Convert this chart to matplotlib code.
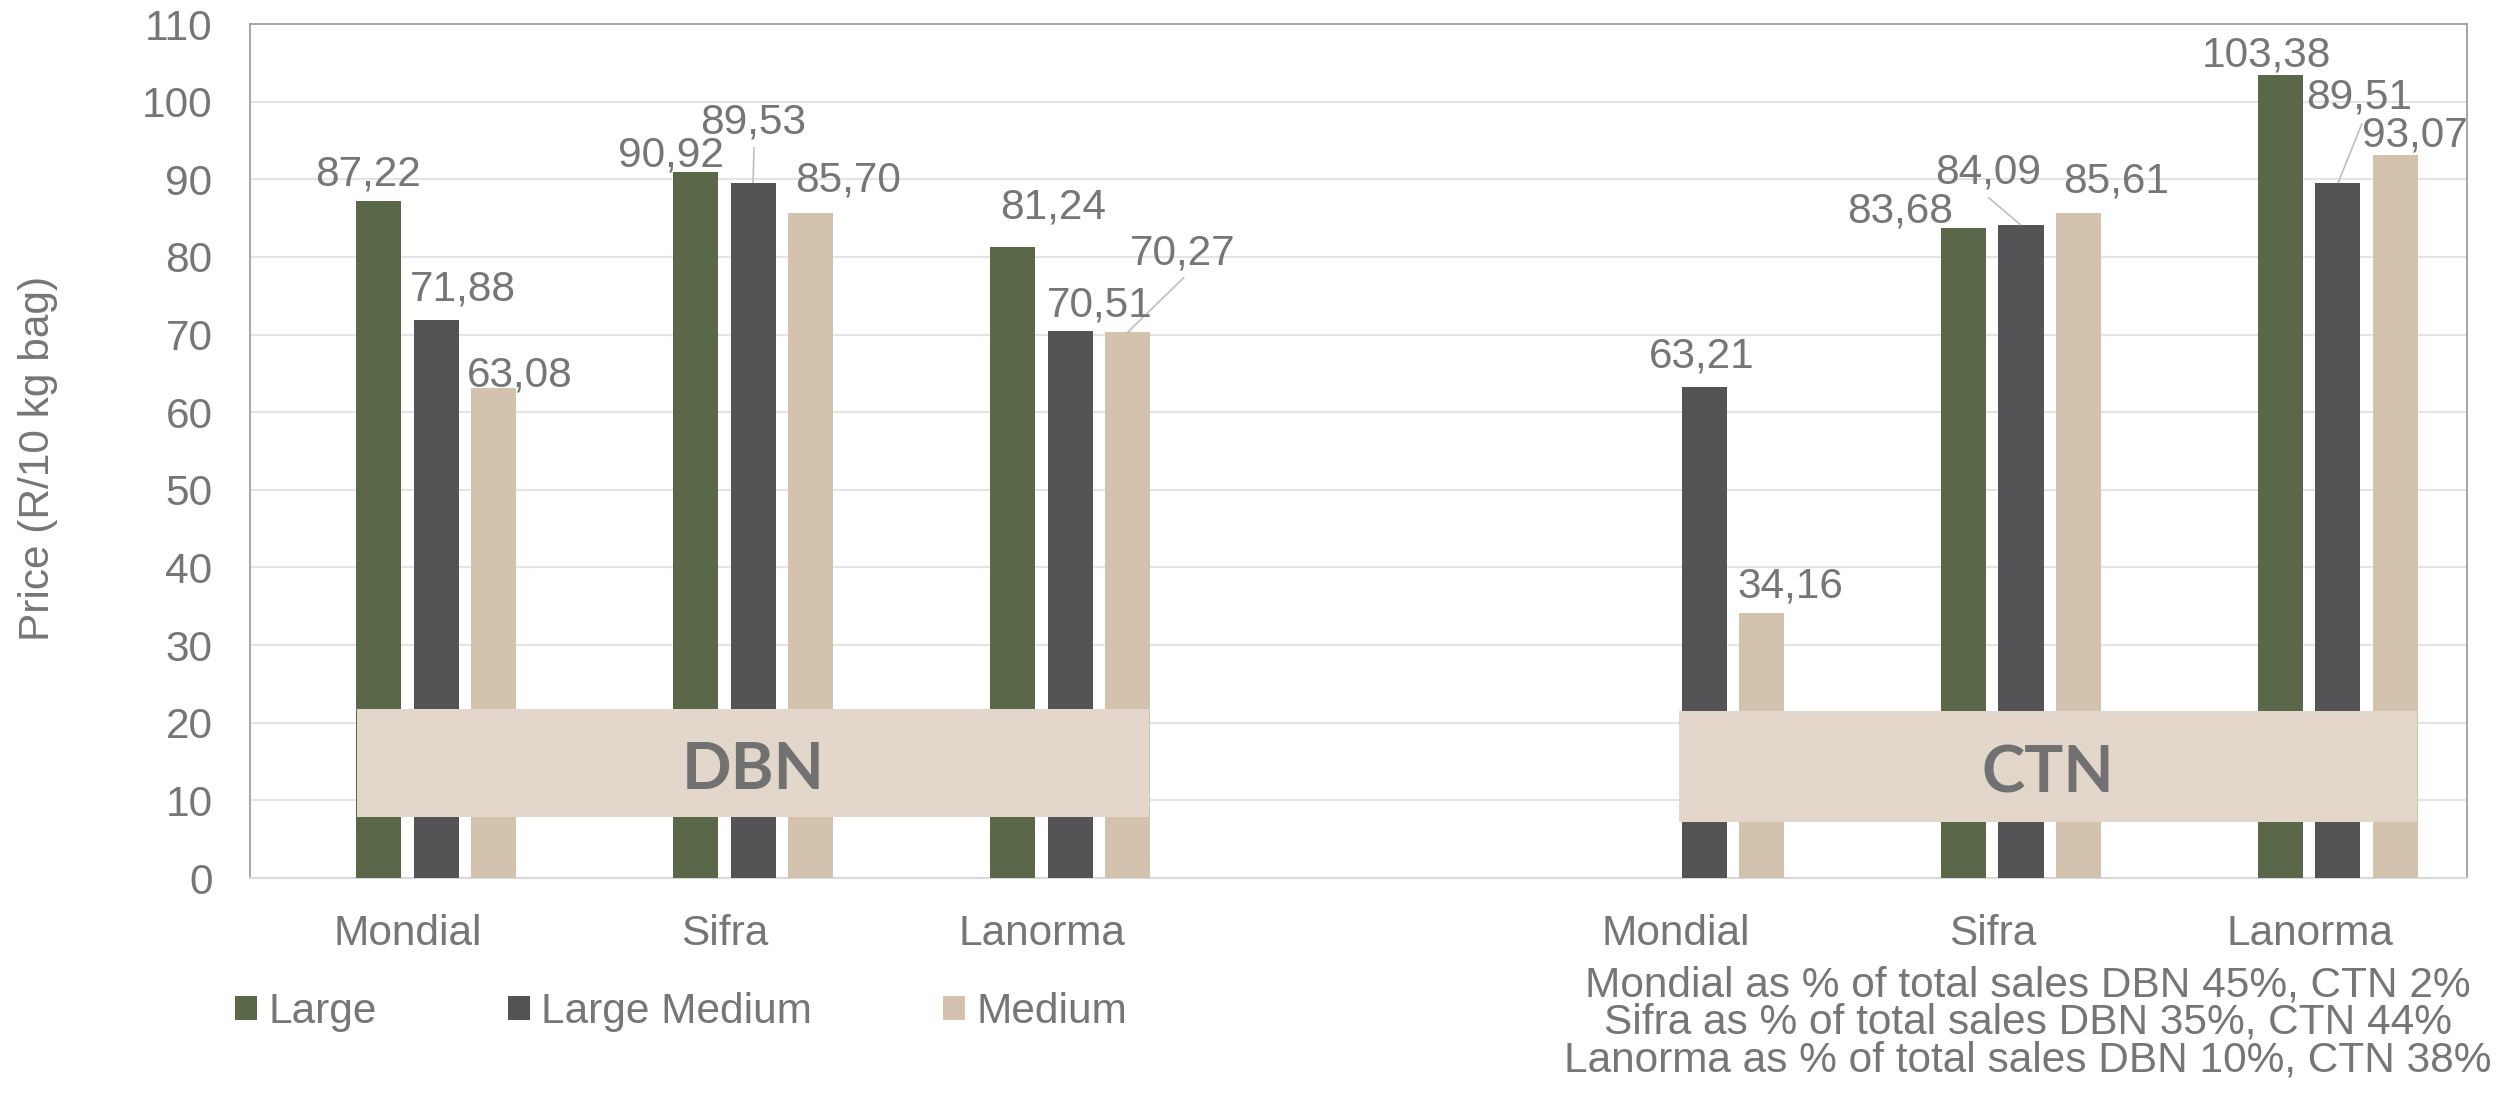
import numpy as np
import matplotlib
matplotlib.use("Agg")
import matplotlib.pyplot as plt
from matplotlib.patches import Rectangle, Patch
from matplotlib.transforms import blended_transform_factory

# ---------------- data ----------------
categories = ["Mondial", "Sifra", "Lanorma", "Mondial", "Sifra", "Lanorma"]
markets = ["DBN", "CTN"]
series_names = ["Large", "Large Medium", "Medium"]
large = [87.22, 90.92, 81.24, np.nan, 83.68, 103.38]
large_medium = [71.88, 89.53, 70.51, 63.21, 84.09, 89.51]
medium = [63.08, 85.70, 70.27, 34.16, 85.61, 93.07]
cultivars = ["Mondial", "Sifra", "Lanorma"]
dbn_share = [45, 35, 10]
ctn_share = [2, 44, 38]
yticks = list(range(0, 111, 10))

# ---------------- style ----------------
GREEN = "#5A6849"
DARK = "#545456"
BEIGE = "#D3C2AD"
BOX = "#E2D7CA"
TXT = "#767676"
FONT = "Liberation Sans"
FS = 30.5

plt.rcParams["font.family"] = [FONT, "DejaVu Sans"]

W, H = 2498, 1105
fig = plt.figure(figsize=(W / 100, H / 100), dpi=100)
L, R, T, B = 250, 2467, 24, 878
ax = fig.add_axes([L / W, 1 - B / H, (R - L) / W, (B - T) / H])

pos = np.array([0, 1, 2, 4, 5, 6], dtype=float)
bw = 0.142
step = 0.1814
cols = [GREEN, DARK, BEIGE]
data = [large, large_medium, medium]
for k, (vals, c, name) in enumerate(zip(data, cols, series_names)):
    ax.bar(pos + (k - 1) * step, vals, width=bw, color=c, zorder=3, label=name)

ax.set_xlim(-0.587, 6.407)
ax.set_ylim(0, 110)
ax.set_yticks(yticks)
ax.set_xticks([])
ax.tick_params(axis="y", length=0, pad=27.0, labelsize=FS, labelcolor=TXT)
ax.grid(axis="y", color="#E4E4E4", lw=1.5, zorder=0)
for s in ["left", "top", "right"]:
    ax.spines[s].set_color("#A6A6A6")
    ax.spines[s].set_linewidth(1.4)
ax.spines["bottom"].set_color("#D9D9D9")
ax.spines["bottom"].set_linewidth(1.5)

# data labels (offsets of label centre from bar top, data units)
offs = [
    [(-0.033, 3.84), (-0.078, 2.58), (0.127, 5.56), None, (-0.20, 2.7), (-0.043, 3.0)],
    [(0.085, 4.37), (0.0, 8.23), (0.095, 3.7), (-0.006, 4.4), (-0.104, 7.3), (0.066, 11.5)],
    [(0.084, 2.09), (0.119, 4.59), (0.175, 10.7), (0.09, 3.9), (0.119, 4.6), (0.062, 3.0)],
]
leaders = {(1, 1): (0.003, 4.62), (2, 2): (0.179, 7.13), (1, 4): (-0.104, 3.6), (1, 5): (0.076, 7.7)}
base_shift = 14.8 / 7.764
for k, vals in enumerate(data):
    for i, v in enumerate(vals):
        if np.isnan(v):
            continue
        bx = pos[i] + (k - 1) * step
        dx, dy = offs[k][i]
        ax.text(bx + dx, v + dy - base_shift, f"{v:.2f}".replace(".", ","),
                ha="center", va="baseline", fontsize=FS, color=TXT, zorder=6)
        if (k, i) in leaders:
            lx, ly = leaders[(k, i)]
            ax.plot([bx + lx, bx], [v + ly, v], color="#BFBFBF", lw=1.2, zorder=5,
                    solid_capstyle="butt")

# market boxes
boxes = [(-0.249, 2.249, 7.86, 21.77), (3.921, 6.249, 7.21, 21.51)]
for (x0, x1, y0, y1), m in zip(boxes, markets):
    ax.add_patch(Rectangle((x0, y0), x1 - x0, y1 - y0, facecolor=BOX, edgecolor="none", zorder=4))
    ax.text((x0 + x1) / 2, (y0 + y1) / 2 - 3.3, m, ha="center", va="baseline",
            fontsize=47, fontweight="bold", color="#717171", family=["Lato", "DejaVu Sans"], zorder=6)

# category labels
tr = blended_transform_factory(ax.transData, ax.transAxes)
for p, c in zip(pos, categories):
    ax.text(p - 0.088, (B - 945) / (B - T), c, transform=tr, ha="center", va="baseline",
            fontsize=FS, color=TXT)

# y label
fig.text(38 / W, 1 - 458 / H, "Price (R/10 kg bag)", rotation=90, ha="center", va="center",
         fontsize=FS, color=TXT)

# footnote (one multi-line text block)
note = "\n".join(f"{cv} as % of total sales DBN {a}%, CTN {b}%"
                 for cv, a, b in zip(cultivars, dbn_share, ctn_share))
fig.text(2028 / W, 1 - 965 / H, note, ha="center", va="top", multialignment="center",
         linespacing=0.92, fontsize=FS, color=TXT)

# legend
handles = [Patch(facecolor=c, edgecolor="none") for c in cols]
leg = fig.legend(handles, series_names, loc="center left",
                 bbox_to_anchor=(235 / W, 1 - 1012 / H), ncol=3, frameon=False,
                 fontsize=FS, handlelength=0.52, handleheight=0.52, handletextpad=0.26,
                 columnspacing=3.1, borderpad=0, borderaxespad=0)
for t in leg.get_texts():
    t.set_color(TXT)

fig.savefig("out.png", dpi=100, facecolor="white")
